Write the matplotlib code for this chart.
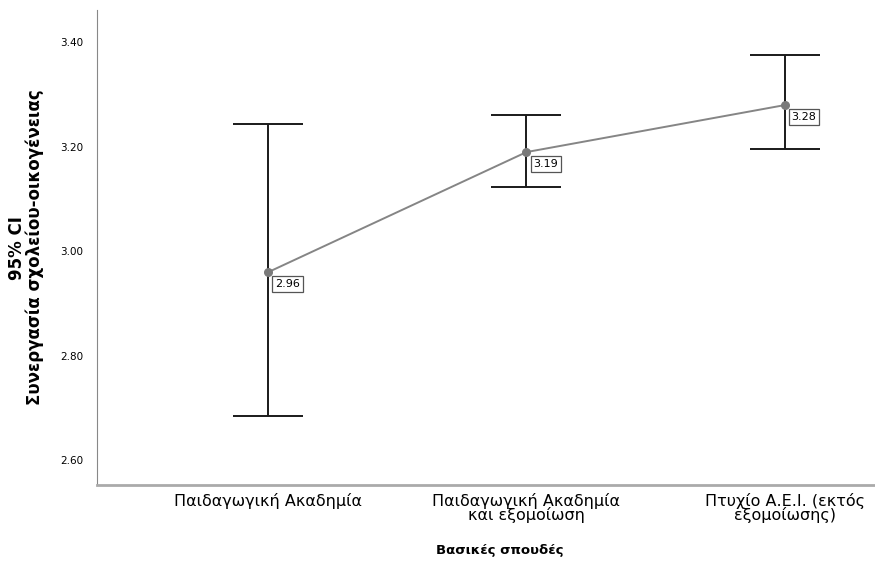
import matplotlib
matplotlib.use("Agg")
import matplotlib.pyplot as plt

categories = ["Παιδαγωγική Ακαδημία", "Παιδαγωγική Ακαδημία\nκαι εξομοίωση", "Πτυχίο Α.Ε.Ι. (εκτός\nεξομοίωσης)"]
means = [2.96, 3.19, 3.28]
ci_low = [2.685, 3.123, 3.196]
ci_high = [3.244, 3.262, 3.376]
yticks = [2.60, 2.80, 3.00, 3.20, 3.40]

plt.rcParams['font.family'] = ['DejaVu Sans']

fig = plt.figure(figsize=(8.75, 5.63), dpi=100)
ax = fig.add_axes([0.111, 0.1385, 0.889, 0.8435])

x = list(range(len(categories)))
ax.plot(x, means, color='#858585', lw=1.4, zorder=2)
ax.scatter(x, means, s=30, color='#7a7a7a', zorder=4)
lower = [m - l for m, l in zip(means, ci_low)]
upper = [h - m for m, h in zip(means, ci_high)]
ax.errorbar(x, means, yerr=[lower, upper], fmt='none', ecolor='#1a1a1a',
            elinewidth=1.4, capsize=25, capthick=1.4, zorder=3)

for xi, m in zip(x, means):
    ax.annotate(f"{m:.2f}", (xi, m), xytext=(5, -5), textcoords='offset points',
                fontsize=8, ha='left', va='top',
                bbox=dict(boxstyle='square,pad=0.25', fc='white', ec='#555555', lw=0.9),
                zorder=5)

ax.set_xlim(-0.663, 2.35)
ax.set_ylim(2.552, 3.462)
ax.set_yticks(yticks)
ax.set_yticklabels([f"{v:.2f}" for v in yticks], fontsize=7.5)
ax.set_xticks(x)
ax.set_xticklabels(categories, fontsize=11.5, linespacing=0.85)
ax.tick_params(axis='both', length=0, pad=10)
ax.tick_params(axis='x', pad=6)
for s in ['top', 'right']:
    ax.spines[s].set_visible(False)
ax.spines['left'].set_color('#888888')
ax.spines['bottom'].set_color('#aaaaaa')
ax.spines['bottom'].set_linewidth(2)

ax.set_ylabel("95% CI\nΣυνεργασία σχολείου-οικογένειας", fontsize=12,
              fontweight='bold', linespacing=1.0)
ax.yaxis.set_label_coords(-0.068, 0.5)
ax.set_xlabel("Βασικές σπουδές", fontsize=9.5, fontweight='bold')
ax.xaxis.set_label_coords(0.518, -0.125)

fig.savefig("out.png", dpi=100)
